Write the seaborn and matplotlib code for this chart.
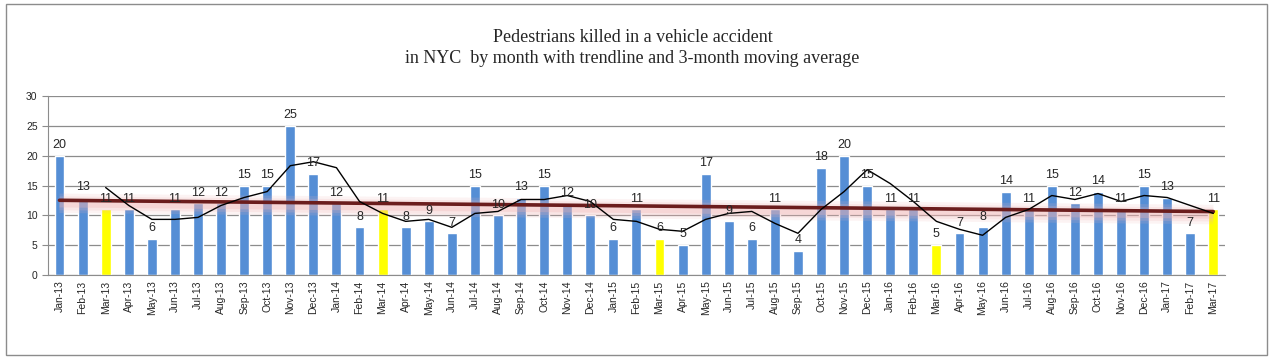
import numpy as np
import pandas as pd
import matplotlib
matplotlib.use("Agg")
import matplotlib.pyplot as plt
import seaborn as sns
from matplotlib.patches import Rectangle

# monthly data
months = ["Jan-13", "Feb-13", "Mar-13", "Apr-13", "May-13", "Jun-13", "Jul-13", "Aug-13",
          "Sep-13", "Oct-13", "Nov-13", "Dec-13", "Jan-14", "Feb-14", "Mar-14", "Apr-14",
          "May-14", "Jun-14", "Jul-14", "Aug-14", "Sep-14", "Oct-14", "Nov-14", "Dec-14",
          "Jan-15", "Feb-15", "Mar-15", "Apr-15", "May-15", "Jun-15", "Jul-15", "Aug-15",
          "Sep-15", "Oct-15", "Nov-15", "Dec-15", "Jan-16", "Feb-16", "Mar-16", "Apr-16",
          "May-16", "Jun-16", "Jul-16", "Aug-16", "Sep-16", "Oct-16", "Nov-16", "Dec-16",
          "Jan-17", "Feb-17", "Mar-17"]
killed = [20, 13, 11, 11, 6, 11, 12, 12, 15, 15, 25, 17, 12, 8, 11, 8,
          9, 7, 15, 10, 13, 15, 12, 10, 6, 11, 6, 5, 17, 9, 6, 11,
          4, 18, 20, 15, 11, 11, 5, 7, 8, 14, 11, 15, 12, 14, 11, 15,
          13, 7, 11]
highlight = ["Mar-13", "Mar-14", "Mar-15", "Mar-16", "Mar-17"]

BLUE = "#558ED5"
YELLOW = "#FFFF00"

df = pd.DataFrame({"month": months, "killed": killed})
df["ma3"] = df["killed"].rolling(3).mean()
xs = np.arange(len(df))
slope, intercept = np.polyfit(xs, df["killed"], 1)
df["trend"] = intercept + slope * xs

sns.set_style("white")
plt.rcParams["font.family"] = ["Liberation Sans", "DejaVu Sans"]

fig = plt.figure(figsize=(12.73, 3.6), dpi=100)
ax = fig.add_axes([0.0377, 0.236, 0.9245, 0.497])

palette = [YELLOW if m in highlight else BLUE for m in months]
sns.barplot(data=df, x="month", y="killed", hue="month", palette=palette,
            legend=False, width=0.43, saturation=1, ax=ax, zorder=2)

# trendline with soft pink glow
for lw, a in [(14, 0.15), (10, 0.2), (6, 0.3)]:
    ax.plot(xs, df["trend"] - 0.5, color="#F0B4B4", lw=lw, alpha=a,
            solid_capstyle="butt", zorder=3)
ax.plot(xs, df["trend"], color="#6B1D1D", lw=2.6, zorder=4)

# 3-month moving average
ax.plot(xs, df["ma3"], color="black", lw=1, zorder=5)

for i, v in enumerate(killed):
    ax.text(i, v + 0.8, str(v), ha="center", va="bottom", fontsize=9, zorder=6)

ax.set_ylim(0, 30)
ax.set_yticks(range(0, 31, 5))
ax.set_xlim(-0.5, len(months) - 0.5)
ax.yaxis.grid(True, color="#8C8C8C", lw=0.9)
ax.set_axisbelow(True)
for s in ["top", "right"]:
    ax.spines[s].set_visible(False)
ax.spines["left"].set_color("#8C8C8C")
ax.spines["bottom"].set_color("#8C8C8C")
ax.set_xlabel("")
ax.set_ylabel("")

ax.set_xticks(xs)
ax.set_xticklabels(months, rotation=90, fontsize=7.5)
ax.set_xticks(np.arange(-0.5, len(months), 1), minor=True)
ax.tick_params(axis="x", which="major", length=0, pad=4)
ax.tick_params(axis="x", which="minor", length=4, color="#8C8C8C", direction="out")
ax.tick_params(axis="y", length=4, color="#8C8C8C", labelsize=7.5, left=True)

fig.text(0.497, 0.895, "Pedestrians killed in a vehicle accident",
         ha="center", va="center", fontsize=13, family="Liberation Serif")
fig.text(0.497, 0.838, "in NYC  by month with trendline and 3-month moving average",
         ha="center", va="center", fontsize=13, family="Liberation Serif")

fig.add_artist(Rectangle((0.005, 0.014), 0.99, 0.975, transform=fig.transFigure,
                         fill=False, edgecolor="#8C8C8C", lw=1))

fig.savefig("out.png", dpi=100)
